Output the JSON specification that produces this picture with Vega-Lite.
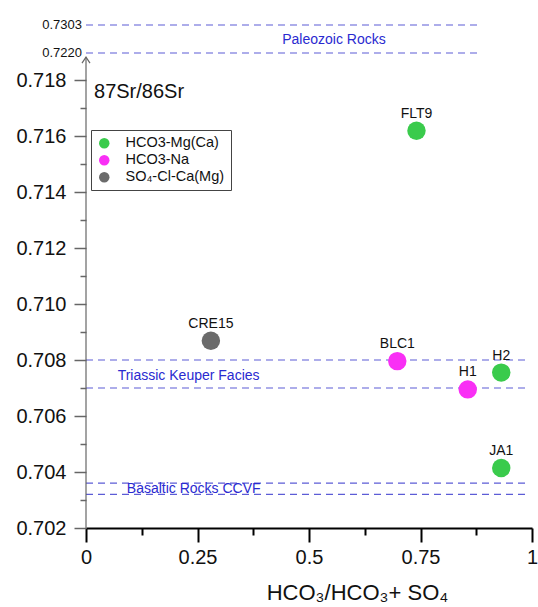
{
  "$schema": "https://vega.github.io/schema/vega-lite/v6.json",
  "width": 446,
  "height": 518,
  "autosize": {"type": "none"},
  "padding": {"left": 86, "top": 10, "right": 6, "bottom": 79},
  "background": "white",
  "config": {
    "view": {"stroke": null},
    "font": "Liberation Sans",
    "text": {"font": "Liberation Sans"},
    "axis": {"labelFontWeight": "normal", "titleFontWeight": "normal", "labelFont": "Liberation Sans", "titleFont": "Liberation Sans"}
  },
  "resolve": {"axis": {"x": "independent", "y": "independent"}},
  "encoding": {
    "x": {
      "field": "x", "type": "quantitative",
      "scale": {"domain": [0, 1], "nice": false, "zero": false},
      "axis": null
    },
    "y": {
      "field": "y", "type": "quantitative",
      "scale": {"domain": [0.702, 0.718, 0.722, 0.7303], "range": [518, 70, 43, 15], "nice": false, "zero": false},
      "axis": null
    }
  },
  "layer": [
    {
      "data": {"values": [
        {"zone": "Paleozoic Rocks", "y": 0.7303, "x": 0, "x2": 0.886},
        {"zone": "Paleozoic Rocks", "y": 0.722, "x": 0, "x2": 0.886},
        {"zone": "Triassic Keuper Facies", "y": 0.708, "x": 0, "x2": 0.99},
        {"zone": "Triassic Keuper Facies", "y": 0.707, "x": 0, "x2": 0.99},
        {"zone": "Basaltic Rocks CCVF", "y": 0.7036, "x": 0, "x2": 0.99},
        {"zone": "Basaltic Rocks CCVF", "y": 0.7032, "x": 0, "x2": 0.99}
      ]},
      "mark": {"type": "rule", "color": "#5c5cd6", "strokeWidth": 1.2, "strokeDash": [7, 5]},
      "encoding": {
        "x": {
          "field": "x", "type": "quantitative",
          "scale": {"domain": [0, 1], "nice": false, "zero": false},
          "axis": {
            "orient": "bottom",
            "values": [0, 0.25, 0.5, 0.75, 1],
            "labelExpr": "format(datum.value, '~g')",
            "grid": false,
            "domainColor": "#000", "domainWidth": 2,
            "tickColor": "#000", "tickWidth": 2, "tickSize": 14,
            "labelFontSize": 20, "labelColor": "#111", "labelPadding": 5,
            "labelFlush": false,
            "title": "HCO₃/HCO₃+ SO₄",
            "titleFontSize": 22, "titleColor": "#111",
            "titleX": 271, "titleY": 64, "titleAlign": "center", "titleBaseline": "middle"
          }
        },
        "y": {
          "field": "y", "type": "quantitative",
          "scale": {"domain": [0.702, 0.718, 0.722, 0.7303], "range": [518, 70, 43, 15], "nice": false, "zero": false},
          "axis": {
            "orient": "left",
            "values": [0.702, 0.704, 0.706, 0.708, 0.71, 0.712, 0.714, 0.716, 0.718],
            "format": ".3f",
            "grid": false,
            "domain": false,
            "tickColor": "#666", "tickWidth": 1.5, "tickSize": 12,
            "labelFontSize": 20, "labelColor": "#111", "labelPadding": 8,
            "labelFlush": false,
            "title": null
          }
        },
        "x2": {"field": "x2"}
      }
    },
    {
      "data": {"values": [
        {"label": "0.7303", "y": 0.7303, "x": 0},
        {"label": "0.7220", "y": 0.722, "x": 0}
      ]},
      "mark": {"type": "text", "align": "right", "baseline": "middle", "dx": -4, "fontSize": 13, "color": "#111"},
      "encoding": {"text": {"field": "label"}}
    },
    {
      "data": {"values": [
        {"zone": "Paleozoic Rocks", "x": 0.44, "y": 0.72585},
        {"zone": "Triassic Keuper Facies", "x": 0.071, "y": 0.70743},
        {"zone": "Basaltic Rocks CCVF", "x": 0.0915, "y": 0.70339}
      ]},
      "mark": {"type": "text", "align": "left", "baseline": "middle", "fontSize": 14, "color": "#2a2ad0"},
      "encoding": {"text": {"field": "zone"}}
    },
    {
      "data": {"values": [{"x": 0, "y": 0.702, "y2": 0.7214}]},
      "mark": {"type": "rule", "color": "#666", "strokeWidth": 1.2},
      "encoding": {
        "x": {
          "field": "x", "type": "quantitative",
          "scale": {"domain": [0, 1], "nice": false, "zero": false},
          "axis": {
            "orient": "bottom",
            "values": [0.125, 0.375, 0.625, 0.875],
            "labels": false, "domain": false, "grid": false,
            "tickColor": "#000", "tickWidth": 2, "tickSize": 7,
            "title": null
          }
        },
        "y": {
          "field": "y", "type": "quantitative",
          "scale": {"domain": [0.702, 0.718, 0.722, 0.7303], "range": [518, 70, 43, 15], "nice": false, "zero": false},
          "axis": {
            "orient": "left",
            "values": [0.703, 0.705, 0.707, 0.709, 0.711, 0.713, 0.715, 0.717],
            "labels": false, "domain": false, "grid": false,
            "tickColor": "#666", "tickWidth": 1.5, "tickSize": 6,
            "title": null
          }
        },
        "y2": {"field": "y2"}
      }
    },
    {
      "data": {"values": [{"x": 0, "y": 0.7214}]},
      "mark": {"type": "point", "shape": "M-1,1.5L0,0L1,1.5", "size": 64, "filled": false, "stroke": "#666", "strokeWidth": 1.2, "opacity": 1},
      "encoding": {}
    },
    {
      "data": {"values": [{"x": 0.018, "y": 0.71757, "label": "87Sr/86Sr"}]},
      "mark": {"type": "text", "align": "left", "baseline": "middle", "fontSize": 20, "color": "#111"},
      "encoding": {"text": {"field": "label"}}
    },
    {
      "data": {"values": [
        {"sample": "FLT9", "x": 0.741, "y": 0.71619, "type": "HCO3-Mg(Ca)"},
        {"sample": "CRE15", "x": 0.28, "y": 0.70869, "type": "SO₄-Cl-Ca(Mg)"},
        {"sample": "BLC1", "x": 0.698, "y": 0.70796, "type": "HCO3-Na"},
        {"sample": "H1", "x": 0.856, "y": 0.70695, "type": "HCO3-Na"},
        {"sample": "H2", "x": 0.931, "y": 0.70755, "type": "HCO3-Mg(Ca)"},
        {"sample": "JA1", "x": 0.931, "y": 0.70414, "type": "HCO3-Mg(Ca)"}
      ]},
      "layer": [
        {
          "mark": {"type": "circle", "size": 340, "opacity": 1},
          "encoding": {
            "color": {
              "field": "type", "type": "nominal",
              "scale": {"domain": ["HCO3-Mg(Ca)", "HCO3-Na", "SO₄-Cl-Ca(Mg)"], "range": ["#3acb4c", "#f92ff5", "#6b6b6b"]},
              "legend": {
                "title": null, "orient": "none", "legendX": 5, "legendY": 120,
                "strokeColor": "#444", "fillColor": "white", "padding": 6,
                "symbolType": "circle", "symbolSize": 110, "symbolStrokeWidth": 0, "symbolOpacity": 1,
                "labelFontSize": 14.5, "labelColor": "#111", "labelOffset": 14, "rowPadding": 2,
                "labelFont": "Liberation Sans"
              }
            }
          }
        },
        {
          "mark": {"type": "text", "dy": -17, "fontSize": 14, "color": "#111", "baseline": "middle"},
          "encoding": {"text": {"field": "sample"}}
        }
      ]
    }
  ]
}
